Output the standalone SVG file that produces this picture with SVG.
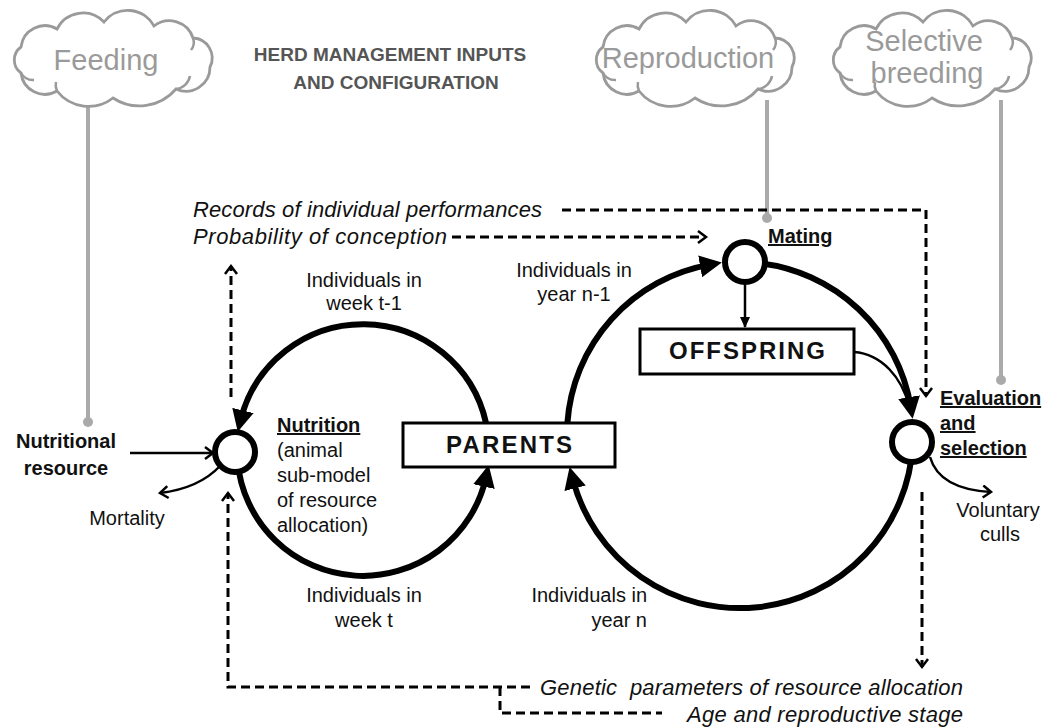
<svg xmlns="http://www.w3.org/2000/svg" width="1052" height="727" viewBox="0 0 1052 727">
<style>
text{font-family:"Liberation Sans",Arial,sans-serif;fill:#111}
.lbl{font-size:20px}
.b{font-weight:bold}
.u{text-decoration:underline}
.it{font-style:italic;font-size:22px}
.ct{font-size:29px;fill:#9a9a9a}
.title{font-weight:bold;font-size:19px;fill:#555}
.cloud{fill:#fff;stroke:#9a9a9a;stroke-width:2.8}
.inner{fill:none;stroke:#9a9a9a;stroke-width:2.5}
.gl{stroke:#aaa;stroke-width:4;fill:none}
.gd{fill:#aaa}
.loop{fill:none;stroke:#000;stroke-width:6}
.thin{fill:none;stroke:#000;stroke-width:2.5}
.dash{fill:none;stroke:#000;stroke-width:3;stroke-dasharray:9 5}
.node{fill:#fff;stroke:#000;stroke-width:6}
.box{fill:#fff;stroke:#000;stroke-width:3}
</style>
<defs>
<marker id="big" markerUnits="userSpaceOnUse" markerWidth="24" markerHeight="24" viewBox="0 0 24 24" refX="10" refY="12" orient="auto"><path d="M0,1 L22,12 L0,23 Z" fill="#000"/></marker>
<marker id="chev" markerUnits="userSpaceOnUse" markerWidth="14" markerHeight="14" viewBox="0 0 14 14" refX="11" refY="7" orient="auto"><path d="M3,1 L11,7 L3,13" fill="none" stroke="#000" stroke-width="2.5"/></marker>
<marker id="sm" markerUnits="userSpaceOnUse" markerWidth="12" markerHeight="12" viewBox="0 0 12 12" refX="10" refY="6" orient="auto"><path d="M0,1 L11,6 L0,11 Z" fill="#000"/></marker>
<g id="cloudShape">
<path class="cloud" d="M21,73 A16,16 0 0 1 21,47 A24,24 0 0 1 57,29 A29,29 0 0 1 104,22 A30,30 0 0 1 154,26 A25,25 0 0 1 193,38 A20,20 0 0 1 210,67 A24,24 0 0 1 176,89 A48,48 0 0 1 113,98 A40,40 0 0 1 57,91 A24,24 0 0 1 21,73 Z"/>
<path class="inner" d="M176,89 A16,16 0 0 0 190,76"/>
<path class="inner" d="M21,73 A14,14 0 0 0 34,80"/>
<path class="inner" d="M193,38 A12,12 0 0 1 191,50"/>
<path class="inner" d="M57,91 A14,14 0 0 1 56,82"/>
</g>
</defs>

<g id="gray-links">
<path class="gl" d="M88,100 V422"/><circle class="gd" cx="88" cy="422" r="5"/>
<path class="gl" d="M767,100 V218"/><circle class="gd" cx="767" cy="218" r="5"/>
<path class="gl" d="M1001,100 V380"/><circle class="gd" cx="1001" cy="380" r="5"/>
</g>

<g id="cloud-feeding">
<use href="#cloudShape"/>
<text class="ct" x="106" y="70" text-anchor="middle">Feeding</text>
</g>
<g id="cloud-reproduction">
<use href="#cloudShape" transform="translate(582,0)"/>
<text class="ct" x="688" y="68" text-anchor="middle">Reproduction</text>
</g>
<g id="cloud-selective">
<use href="#cloudShape" transform="translate(819,0)"/>
<text class="ct" x="924" y="51" text-anchor="middle">Selective</text>
<text class="ct" x="927" y="83" text-anchor="middle">breeding</text>
</g>
<g id="title">
<text class="title" x="390" y="61" text-anchor="middle">HERD MANAGEMENT INPUTS</text>
<text class="title" x="396" y="89" text-anchor="middle">AND CONFIGURATION</text>
</g>

<g id="connectors">
<path class="loop" d="M486,423 A126,126 0 0 0 240.6,420.2" marker-end="url(#big)"/>
<path class="loop" d="M237.5,461 A126,126 0 0 0 486.1,476.8" marker-end="url(#big)"/>
<path class="loop" d="M567.4,423 A173,173 0 0 1 710,264.6" marker-end="url(#big)"/>
<path class="loop" d="M758.1,263 A173,173 0 0 1 910.7,407" marker-end="url(#big)"/>
<path class="loop" d="M912.8,444.1 A173,173 0 0 1 572.6,478.6" marker-end="url(#big)"/>
<path class="thin" d="M745,283 V327" marker-end="url(#sm)"/>
<path class="thin" d="M854,352 C882,354 902,378 909,406"/>
<path class="thin" d="M130,453 H213" marker-end="url(#chev)"/>
<path class="thin" d="M220,466 C205,482 185,490 160,493" marker-end="url(#chev)"/>
<path class="thin" d="M930,457 C936,478 955,490 991,492" marker-end="url(#chev)"/>
<path class="dash" d="M562,210 H926 V396" marker-end="url(#chev)"/>
<path class="dash" d="M452,237 H706" marker-end="url(#chev)"/>
<path class="dash" d="M231,397 V266" marker-end="url(#chev)"/>
<path class="dash" d="M530,687 H228 V493" marker-end="url(#chev)"/>
<path class="dash" d="M500,687 V713 H662"/>
<path class="dash" d="M922,492 V667" marker-end="url(#chev)"/>
</g>

<g id="node-nutrition"><circle class="node" cx="235" cy="452" r="20"/></g>
<g id="node-mating"><circle class="node" cx="745" cy="262" r="20"/></g>
<g id="node-evaluation"><circle class="node" cx="912" cy="442" r="20"/></g>
<g id="node-parents">
<rect class="box" x="403" y="423" width="212" height="44"/>
<text x="509" y="453" text-anchor="middle" font-size="24" font-weight="bold" textLength="126">PARENTS</text>
</g>
<g id="node-offspring">
<rect class="box" x="640" y="329" width="214" height="45"/>
<text x="747" y="359" text-anchor="middle" font-size="24" font-weight="bold" textLength="156">OFFSPRING</text>
</g>

<g id="labels">
<text class="lbl b" x="66" y="448" text-anchor="middle">Nutritional</text>
<text class="lbl b" x="66" y="475" text-anchor="middle">resource</text>
<text class="lbl" x="127" y="525" text-anchor="middle">Mortality</text>
<text class="lbl b u" x="277" y="432">Nutrition</text>
<text class="lbl" x="277" y="457">(animal</text>
<text class="lbl" x="277" y="482">sub-model</text>
<text class="lbl" x="277" y="507">of resource</text>
<text class="lbl" x="277" y="532">allocation)</text>
<text class="lbl" x="364" y="287" text-anchor="middle">Individuals in</text>
<text class="lbl" x="364" y="310" text-anchor="middle">week t-1</text>
<text class="lbl" x="574" y="277" text-anchor="middle">Individuals in</text>
<text class="lbl" x="574" y="301" text-anchor="middle">year n-1</text>
<text class="lbl" x="364" y="602" text-anchor="middle">Individuals in</text>
<text class="lbl" x="364" y="627" text-anchor="middle">week t</text>
<text class="lbl" x="647" y="602" text-anchor="end">Individuals in</text>
<text class="lbl" x="647" y="627" text-anchor="end">year n</text>
<text class="lbl b u" x="768" y="243" font-size="21">Mating</text>
<text class="lbl b u" x="940" y="405" font-size="21">Evaluation</text>
<text class="lbl b u" x="940" y="430" font-size="21">and</text>
<text class="lbl b u" x="940" y="455" font-size="21">selection</text>
<text class="lbl" x="998" y="517" text-anchor="middle">Voluntary</text>
<text class="lbl" x="1000" y="541" text-anchor="middle">culls</text>
<text class="it" x="193" y="217" textLength="349">Records of individual performances</text>
<text class="it" x="193" y="244" textLength="254">Probability of conception</text>
<text class="it" x="540" y="695" textLength="423" xml:space="preserve">Genetic  parameters of resource allocation</text>
<text class="it" x="687" y="722" textLength="276">Age and reproductive stage</text>
</g>
</svg>
